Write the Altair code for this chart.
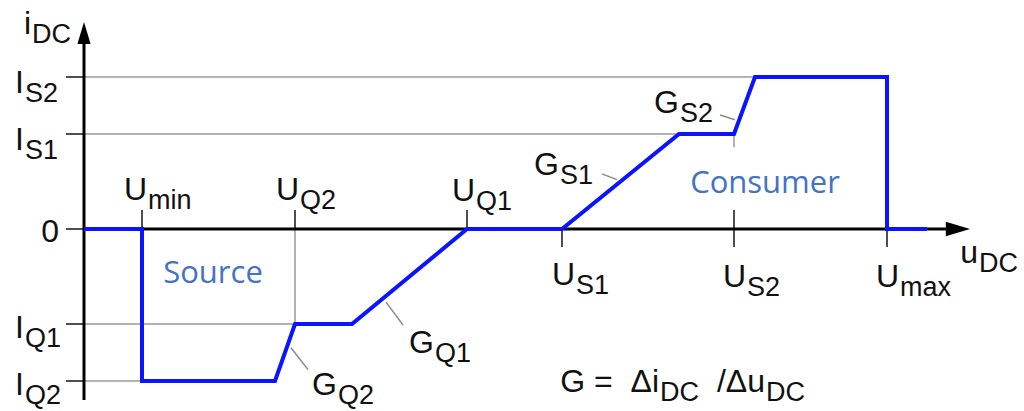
import altair as alt
import pandas as pd

# Voltage characteristic points (u in arbitrary units, i in units of I_S1)
U_MIN, U_Q2, U_Q1, U_S1, U_S2, U_MAX = 5.8, 21.1, 38.3, 47.8, 65.0, 80.3
I_S2, I_S1, I_Q1, I_Q2 = 1.6, 1.0, -1.0, -1.6

curve_u = [0.0, U_MIN, U_MIN, 19.1, U_Q2, 26.8, U_Q1, U_S1, 59.5, U_S2, 67.1, U_MAX, U_MAX, 84.3]
curve_i = [0.0, 0.0, I_Q2, I_Q2, I_Q1, I_Q1, 0.0, 0.0, I_S1, I_S1, I_S2, I_S2, 0.0, 0.0]

# Thin grey helper lines (x, x2, y, y2)
guide_x = [0.0, 0.0, 0.0, 0.0, U_Q2, U_S2]
guide_x2 = [U_MAX, U_S2, U_Q2, U_MIN, U_Q2, U_S2]
guide_y = [I_S2, I_S1, I_Q1, I_Q2, 0.0, I_S1]
guide_y2 = [I_S2, I_S1, I_Q1, I_Q2, I_Q1, 0.86]

# Tick marks on both axes
tick_x = [-1.8, -1.8, -1.8, -1.8, -1.8, U_MIN, U_Q2, U_Q1, U_S1, U_S2, U_MAX]
tick_x2 = [0.0, 0.0, 0.0, 0.0, 0.0, U_MIN, U_Q2, U_Q1, U_S1, U_S2, U_MAX]
tick_y = [I_S2, I_S1, 0.0, I_Q1, I_Q2, 0.0, 0.0, 0.0, 0.0, 0.2, 0.0]
tick_y2 = [I_S2, I_S1, 0.0, I_Q1, I_Q2, 0.2, 0.2, 0.2, -0.19, -0.19, -0.19]

# Slope leader lines
lead_x = [20.7, 30.2, 51.8, 63.6]
lead_x2 = [22.4, 31.9, 53.3, 65.1]
lead_y = [-1.25, -0.77, 0.58, 1.20]
lead_y2 = [-1.48, -1.01, 0.52, 1.15]

# Labels: main text (right-aligned at x) followed by subscript (left-aligned at x)
label_main = ["i", "I", "I", "I", "I", "0", "U", "U", "U", "U", "U", "U", "u",
              "G", "G", "G", "G", "G\u00a0=\u00a0\u00a0Δi", "/Δu"]
label_sub = ["DC", "S2", "S1", "Q1", "Q2", "", "min", "Q2", "Q1", "S1", "S2", "max", "DC",
             "Q2", "Q1", "S1", "S2", "DC", "DC"]
label_x = [-5.3, -6.0, -6.0, -6.0, -6.0, -2.5, 6.3, 21.5, 39.1, 49.1, 66.2, 81.5, 89.4,
           25.3, 35.0, 47.5, 59.5, 57.5, 68.1]
label_y = [2.05, 1.43, 0.83, -1.15, -1.75, -0.14, 0.31, 0.31, 0.29, -0.59, -0.61, -0.61, -0.36,
           -1.75, -1.31, 0.57, 1.22, -1.72, -1.72]

region_text = ["Source", "Consumer"]
region_x = [12.9, 68.1]
region_y = [-0.57, 0.38]

X_DOMAIN = [-8.4, 94.0]
Y_DOMAIN = [-1.9158, 2.4105]

xs = alt.Scale(domain=X_DOMAIN, nice=False, zero=False)
ys = alt.Scale(domain=Y_DOMAIN, nice=False, zero=False)


def X(field):
    return alt.X(field, type="quantitative", scale=xs, axis=None)


def Y(field):
    return alt.Y(field, type="quantitative", scale=ys, axis=None)


guides = pd.DataFrame({"x": guide_x, "x2": guide_x2, "y": guide_y, "y2": guide_y2})
ticks = pd.DataFrame({"x": tick_x, "x2": tick_x2, "y": tick_y, "y2": tick_y2})
leaders = pd.DataFrame({"x": lead_x, "x2": lead_x2, "y": lead_y, "y2": lead_y2})
axes_df = pd.DataFrame({"x": [0.0, 0.0], "x2": [0.0, 86.5], "y": [-1.8, 0.0], "y2": [1.95, 0.0]})
curve = pd.DataFrame({"u": curve_u, "i": curve_i, "k": list(range(len(curve_u)))})
labels = pd.DataFrame({"main": label_main, "sub": label_sub, "x": label_x, "y": label_y})
regions = pd.DataFrame({"t": region_text, "x": region_x, "y": region_y})

grey_lines = alt.Chart(guides).mark_rule(color="#9a9a9a", strokeWidth=1.5).encode(
    x=X("x"), x2="x2", y=Y("y"), y2="y2")
lead_lines = alt.Chart(leaders).mark_rule(color="#8a8a8a", strokeWidth=1.5).encode(
    x=X("x"), x2="x2", y=Y("y"), y2="y2")
tick_lines = alt.Chart(ticks).mark_rule(color="#222222", strokeWidth=1.6).encode(
    x=X("x"), x2="x2", y=Y("y"), y2="y2")
axis_lines = alt.Chart(axes_df).mark_rule(color="black", strokeWidth=3).encode(
    x=X("x"), x2="x2", y=Y("y"), y2="y2")

arrow_up = alt.Chart(pd.DataFrame({"x": [0.0], "y": [2.18]})).mark_point(
    shape="M0,0L0.6,2L-0.6,2Z", size=484, filled=True, color="black", opacity=1
).encode(x=X("x"), y=Y("y"))
arrow_right = alt.Chart(pd.DataFrame({"x": [88.6], "y": [0.0]})).mark_point(
    shape="M0,0L-2.2,-0.65L-2.2,0.65Z", size=484, filled=True, color="black", opacity=1
).encode(x=X("x"), y=Y("y"))

blue_curve = alt.Chart(curve).mark_line(
    color="#0a14ff", strokeWidth=4, strokeJoin="miter", strokeCap="butt"
).encode(x=X("u"), y=Y("i"), order="k:Q")

main_text = alt.Chart(labels).mark_text(
    align="right", baseline="alphabetic", font="Liberation Sans", fontSize=32, color="#111111"
).encode(x=X("x"), y=Y("y"), text="main:N")
sub_text = alt.Chart(labels).mark_text(
    align="left", baseline="alphabetic", font="Liberation Sans", fontSize=27, color="#111111",
    dx=1, dy=9
).encode(x=X("x"), y=Y("y"), text="sub:N")

region_labels = alt.Chart(regions).mark_text(
    align="center", baseline="alphabetic", font="Open Sans", fontSize=31, color="#4472C4"
).encode(x=X("x"), y=Y("y"), text="t:N")

chart = alt.layer(
    grey_lines, lead_lines, tick_lines, axis_lines, arrow_up, arrow_right,
    blue_curve, main_text, sub_text, region_labels
).properties(
    width=1024, height=411, autosize=alt.AutoSizeParams(type="none"), padding=0,
    background="white"
).configure_view(stroke=None)

chart.save("out.html", embed_options={"renderer": "svg", "actions": False})
